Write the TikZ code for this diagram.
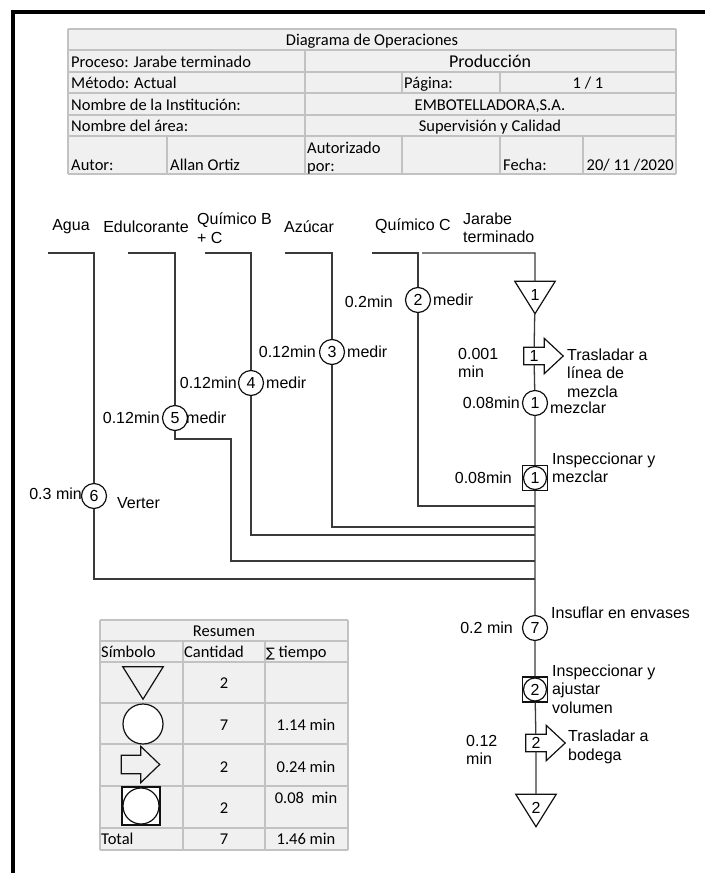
\documentclass[tikz,border=0pt]{standalone}
\usepackage{fontspec}
\setmainfont{Liberation Sans}
\newfontfamily\calibri{Carlito}
\newfontfamily\symfont{DejaVu Sans}
\usepackage{tikz}
\usetikzlibrary{calc,positioning}
\definecolor{Ink}{HTML}{111111}
\definecolor{Wire}{HTML}{3A3A3A}
\definecolor{Cell}{HTML}{F0F0F0}
\definecolor{Grid}{HTML}{C2C2C2}
\newcommand\diagfont{\fontsize{16}{18.5}\selectfont}
\newcommand\cellfont{\calibri\fontsize{16.5}{18}\selectfont}
\tikzset{
  frame/.style={draw=black,line width=4pt,line join=miter},
  wire/.style={draw=Wire,line width=1.3pt},
  grid/.style={draw=Grid,line width=1.2pt},
  sym/.style={draw=Ink,line width=1.2pt},
  op/.style={circle,sym,fill=white,minimum size=25pt,inner sep=0pt,font=\diagfont},
  insp/.style={rectangle,sym,fill=white,minimum size=#1,inner sep=0pt,font=\diagfont,
    path picture={\draw[sym] (path picture bounding box.center) circle[radius=#1/2-1pt];}},
  insp/.default=25pt,
  move/.style={rectangle,minimum width=20pt,minimum height=17pt,inner sep=0pt,font=\diagfont},
  store/.style={minimum width=40pt,minimum height=32pt,inner sep=0pt,text depth=6pt,font=\diagfont},
  lbl/.style={inner sep=0pt,align=left,font=\diagfont},
  cell/.style={inner sep=0pt,font=\cellfont}
}
% outline of a transport arrow round a move node
\newcommand\movearrow[1]{%
  \draw[sym,line join=miter] (#1.north west) -- (#1.north east) -- ++(0,-9) -- ($(#1.east)+(19,0)$)
    -- ($(#1.south east)+(0,9)$) -- (#1.south east) -- (#1.south west) -- cycle;}
% outline of a storage triangle round a store node
\newcommand\storetri[1]{%
  \draw[sym] (#1.north west) -- (#1.north east) -- (#1.south) -- cycle;}

\begin{document}
\begin{tikzpicture}[x=1pt,y=-1pt]
  \useasboundingbox (0,0) rectangle (705,873);
  \draw[frame] (12.5,873) -- (12.5,11.5) -- (705,11.5);

  % header table
  \fill[Cell] (68,29) rectangle (676,174);
  \foreach \y in {29,50,72,93,115,136,174} \draw[grid] (68,\y) -- (676,\y);
  \draw[grid] (68,29) -- (68,174) (676,29) -- (676,174) (305,50) -- (305,174)
    (402,72) -- (402,93) (500,72) -- (500,93) (167,136) -- (167,174)
    (402,136) -- (402,174) (500,136) -- (500,174) (583,136) -- (583,174);
  \node[cell,anchor=base] (h-title) at (372,45.5) {Diagrama de Operaciones};
  \node[cell,anchor=base west] (h-proc) at (71,67.5) {Proceso: Jarabe terminado};
  \node[cell,anchor=base,font=\calibri\fontsize{18}{20}\selectfont] (h-prod) at (490,67.5) {Producción};
  \node[cell,anchor=base west] (h-met) at (71,88.5) {Método: Actual};
  \node[cell,anchor=base west] (h-pag) at (404,88.5) {Página:};
  \node[cell,anchor=base] (h-num) at (588,88.5) {1 / 1};
  \node[cell,anchor=base west] (h-inst) at (71,110.5) {Nombre de la Institución:};
  \node[cell,anchor=base] (h-emb) at (490,110.5) {EMBOTELLADORA,S.A.};
  \node[cell,anchor=base west] (h-area) at (71,131.5) {Nombre del área:};
  \node[cell,anchor=base] (h-sup) at (490,131.5) {Supervisión y Calidad};
  \node[cell,anchor=base west] (h-autor) at (71,170) {Autor:};
  \node[cell,anchor=base west] (h-name) at (170,170) {Allan Ortiz};
  \node[cell,anchor=south west,align=left] (h-autz) at (307,174) {Autorizado\\por:};
  \node[cell,anchor=base west] (h-fecha) at (503,170) {Fecha:};
  \node[cell,anchor=base east] (h-date) at (674,170) {20/ 11 /2020};

  % inputs
  \node[lbl] (in-agua) at (71,227) {Agua};
  \node[lbl] (in-edul) at (146,227) {Edulcorante};
  \node[lbl,anchor=west] (in-qb) at (197,228) {Químico B\\+ C};
  \node[lbl] (in-azu) at (309,227) {Azúcar};
  \node[lbl] (in-qc) at (413,226) {Químico C};
  \node[lbl,anchor=west] (in-jb) at (463,228) {Jarabe\\terminado};

  \coordinate (ag-in) at (48,253);  \coordinate (ag-c) at (94,253);
  \coordinate (ed-in) at (128,253); \coordinate (ed-c) at (175,253);
  \coordinate (qb-in) at (205,253); \coordinate (qb-c) at (251,253);
  \coordinate (az-in) at (285,253); \coordinate (az-c) at (332,253);
  \coordinate (qc-in) at (372,253); \coordinate (qc-c) at (418,253);
  \coordinate (jb-in) at (422,253); \coordinate (jb-c) at (535,253);

  \node[op] (c6) at (94,496) {6};
  \node[op] (c5) at (175,418) {5};
  \node[op] (c4) at (251,383) {4};
  \node[op] (c3) at (332,352) {3};
  \node[op] (c2) at (418,300) {2};

  \coordinate (ag-j) at (94,579);  \coordinate (ag-m) at (535,579);
  \coordinate (ed-b) at (175,439); \coordinate (ed-r) at (231,439);
  \coordinate (ed-d) at (231,561); \coordinate (ed-m) at (535,561);
  \coordinate (qb-j) at (251,535); \coordinate (qb-m) at (535,535);
  \coordinate (az-j) at (332,527); \coordinate (az-m) at (535,527);
  \coordinate (qc-j) at (418,506); \coordinate (qc-m) at (535,506);

  % main line
  \node[store] (t1) at (535,297.5) {1};
  \node[move] (a1) at (534,356) {1};
  \node[op] (c1) at (535,403) {1};
  \node[insp] (s1) at (535,478) {1};
  \node[op] (c7) at (535,628) {7};
  \node[insp] (s2) at (535,689.5) {2};
  \node[move] (a2) at (536,743) {2};
  \node[store] (t2) at (536,810.5) {2};
  \storetri{t1}
  \storetri{t2}
  \movearrow{a1}
  \movearrow{a2}

  \draw[wire] (ag-in) -- (ag-c) -- (c6) -- (ag-j) -- (ag-m);
  \draw[wire] (ed-in) -- (ed-c) -- (c5) -- (ed-b) -- (ed-r) -- (ed-d) -- (ed-m);
  \draw[wire] (qb-in) -- (qb-c) -- (c4) -- (qb-j) -- (qb-m);
  \draw[wire] (az-in) -- (az-c) -- (c3) -- (az-j) -- (az-m);
  \draw[wire] (qc-in) -- (qc-c) -- (c2) -- (qc-j) -- (qc-m);
  \draw[wire] (jb-in) -- (jb-c) -- (t1) -- (a1) -- (c1) -- (s1) -- (ag-m)
    -- (c7) -- (s2) -- (a2) -- (t2);

  % times and descriptions
  \node[lbl,anchor=east] (c6-t) at (82,494) {0.3 min};
  \node[lbl,anchor=west] (c6-d) at (117,503) {Verter};
  \node[lbl,anchor=east] (c5-t) at (160,418) {0.12min};
  \node[lbl,anchor=west] (c5-d) at (186,418) {medir};
  \node[lbl,anchor=east] (c4-t) at (237,383) {0.12min};
  \node[lbl,anchor=west] (c4-d) at (266,383) {medir};
  \node[lbl,anchor=east] (c3-t) at (316,352) {0.12min};
  \node[lbl,anchor=west] (c3-d) at (347,352) {medir};
  \node[lbl,anchor=east] (c2-t) at (393,302) {0.2min};
  \node[lbl,anchor=west] (c2-d) at (433,300) {medir};
  \node[lbl,anchor=west] (a1-t) at (458,363) {0.001\\min};
  \node[lbl,anchor=west] (a1-d) at (567,373) {Trasladar a\\línea de\\mezcla};
  \node[lbl,anchor=east] (c1-t) at (520,403) {0.08min};
  \node[lbl,anchor=west] (c1-d) at (550,408) {mezclar};
  \node[lbl,anchor=east] (s1-t) at (512,478) {0.08min};
  \node[lbl,anchor=west] (s1-d) at (552,468) {Inspeccionar y\\mezclar};
  \node[lbl,anchor=east] (c7-t) at (513,628) {0.2 min};
  \node[lbl,anchor=west] (c7-d) at (551,613) {Insuflar en envases};
  \node[lbl,anchor=west] (s2-d) at (552,689) {Inspeccionar y\\ajustar\\volumen};
  \node[lbl,anchor=west] (a2-t) at (466,750) {0.12\\min};
  \node[lbl,anchor=west] (a2-d) at (568,747) {Trasladar a\\bodega};

  % summary table
  \fill[Cell] (100,620) rectangle (348,850);
  \foreach \y in {620,641,662,703,744,786,828,850} \draw[grid] (100,\y) -- (348,\y);
  \draw[grid] (100,620) -- (100,850) (348,620) -- (348,850) (183,641) -- (183,850) (265,641) -- (265,850);
  \node[cell,anchor=base] (r-title) at (224,636) {Resumen};
  \node[cell,anchor=base west] (r-sym) at (101,657) {Símbolo};
  \node[cell,anchor=base west] (r-qty) at (184,657) {Cantidad};
  \node[cell,anchor=base west] (r-time) at (266,657) {{\symfont\fontsize{13}{16}\selectfont∑} tiempo};
  \node[store] (rs-tri) at (143,683) {};
  \storetri{rs-tri}
  \node[op,minimum size=40pt] (rs-op) at (143,724) {};
  \node[move,minimum width=19pt,minimum height=18pt] (rs-move) at (131,764.5) {};
  \movearrow{rs-move}
  \node[insp=38pt] (rs-insp) at (141,806) {};
  \node[cell,anchor=base] (r-n1) at (224,688) {2};
  \node[cell,anchor=base] (r-n2) at (224,730) {7};
  \node[cell,anchor=base] (r-n3) at (224,772) {2};
  \node[cell,anchor=base] (r-n4) at (224,813) {2};
  \node[cell,anchor=base] (r-n5) at (224,844) {7};
  \node[cell,anchor=base] (r-t2) at (306,730) {1.14 min};
  \node[cell,anchor=base] (r-t3) at (306,772) {0.24 min};
  \node[cell,anchor=base] (r-t4) at (306,803) {0.08~ min};
  \node[cell,anchor=base] (r-t5) at (306,844) {1.46 min};
  \node[cell,anchor=base west] (r-total) at (101,844) {Total};
\end{tikzpicture}
\end{document}
